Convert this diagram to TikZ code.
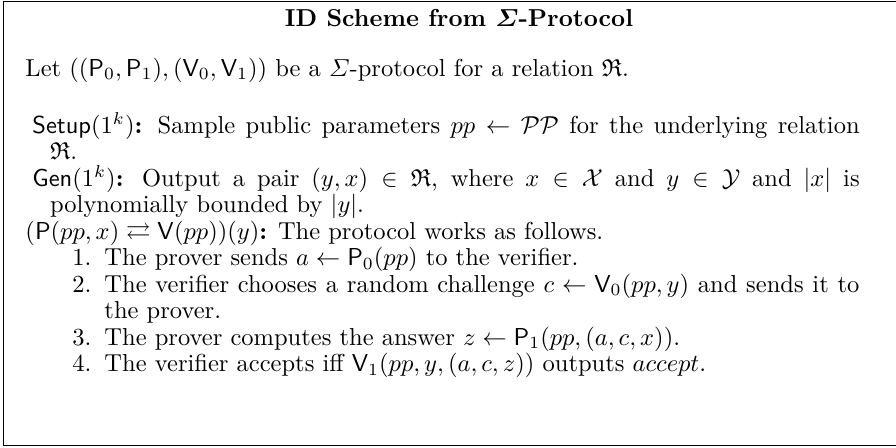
\documentclass[tikz,border=0pt]{standalone}
\usepackage{amsmath}
\usepackage{amssymb}
\usetikzlibrary{positioning}

\tikzset{
  boxline/.style={line width=0.8pt},
  textline/.style={anchor=base west, inner sep=0pt, font=\linefont},
  parline/.style={textline, text width=#1, align=justify},
  numlabel/.style={anchor=base east, inner sep=0pt, font=\linefont}
}
\newcommand{\linefont}{\fontsize{10}{10.8}\selectfont}
\newcommand{\hangit}{\hangindent=7.2pt\hangafter=1\noindent}

\begin{document}
\begin{tikzpicture}[x=0.408pt, y=-0.408pt]
  \useasboundingbox (0,0) rectangle (896,447);
  % frame, right side runs off the page
  \draw[boxline] (900,1.5) -| (3.5,445.5) -- (900,445.5);

  \node[anchor=base, inner sep=0pt] (title) at (459,26)
    {\textbf{\boldmath ID Scheme from $\varSigma$-Protocol}};
  \node[textline] (intro) at (25,76)
    {Let $((\mathsf{P}_0,\mathsf{P}_1),(\mathsf{V}_0,\mathsf{V}_1))$ be a $\varSigma$-protocol for a relation $\mathfrak{R}$.};

  \node[parline=337.5pt] (setup) at (32,133)
    {\hangit $\mathsf{Setup}(1^k)$\textbf{:} Sample public parameters $pp\leftarrow\mathcal{PP}$ for the underlying relation\linebreak $\mathfrak{R}$.\par};
  \node[parline=337.5pt] (gen) at (32,186)
    {\hangit $\mathsf{Gen}(1^k)$\textbf{:} Output a pair $(y,x)\in\mathfrak{R}$, where $x\in\mathcal{X}$ and $y\in\mathcal{Y}$ and $|x|$ is\linebreak polynomially bounded by $|y|$.\par};
  \node[textline] (proto) at (25,239)
    {$(\mathsf{P}(pp,x)\rightleftarrows\mathsf{V}(pp))(y)$\textbf{:} The protocol works as follows.};

  % the four steps
  \node[numlabel] (n1) at (92,265.5) {1.};
  \node[textline] (s1) at (104,265.5)
    {The prover sends $a\leftarrow\mathsf{P}_0(pp)$ to the verifier.};
  \node[numlabel] (n2) at (92,292) {2.};
  \node[parline=308pt] (s2) at (104,292)
    {\noindent The verifier chooses a random challenge $c\leftarrow\mathsf{V}_0(pp,y)$ and sends it to\linebreak the prover.\par};
  \node[numlabel] (n3) at (92,345) {3.};
  \node[textline] (s3) at (104,345)
    {The prover computes the answer $z\leftarrow\mathsf{P}_1(pp,(a,c,x))$.};
  \node[numlabel] (n4) at (92,371.5) {4.};
  \node[textline] (s4) at (104,371.5)
    {The verifier accepts iff $\mathsf{V}_1(pp,y,(a,c,z))$ outputs $accept$.};
\end{tikzpicture}
\end{document}
